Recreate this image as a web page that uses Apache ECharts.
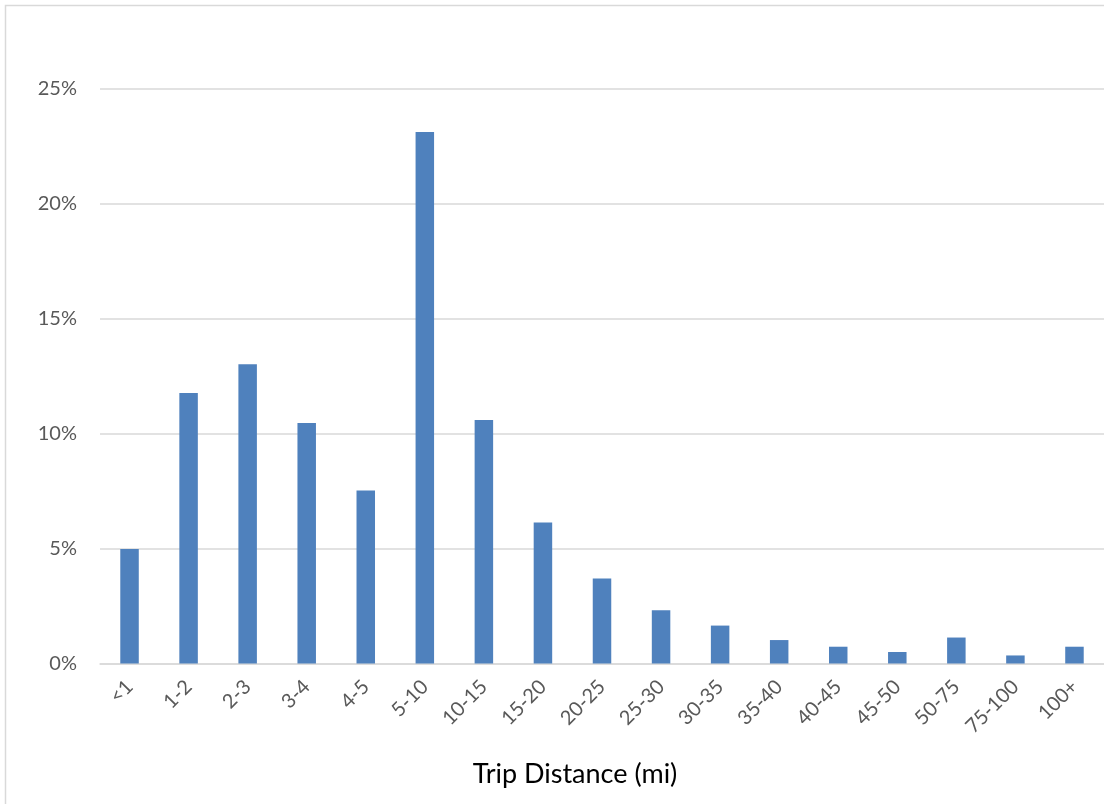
<!DOCTYPE html>
<html>
<head>
<meta charset="utf-8">
<script src="https://cdn.jsdelivr.net/npm/echarts@6/dist/echarts.min.js"></script>
<style>
html,body{margin:0;padding:0;background:#fff;}
#chart{width:1104px;height:804px;}
</style>
</head>
<body>
<div id="chart"></div>
<script>
const categories = ['<1','1-2','2-3','3-4','4-5','5-10','10-15','15-20','20-25','25-30','30-35','35-40','40-45','45-50','50-75','75-100','100+'];
const shares = [4.98, 11.77, 13.02, 10.47, 7.53, 23.13, 10.60, 6.14, 3.70, 2.32, 1.65, 1.02, 0.73, 0.50, 1.13, 0.35, 0.73];
const yTicks = [0, 5, 10, 15, 20, 25];
const xTitle = 'Trip Distance (mi)';

const FONT = 'Lato';
const chart = echarts.init(document.getElementById('chart'), null, {renderer:'canvas'});
chart.setOption({
  animation: false,
  backgroundColor: '#fff',
  grid: {left: 100, right: -3, top: 89, bottom: 140.5, containLabel: false},
  graphic: [
    {type:'rect', shape:{x:5.5, y:5.5, width:1300, height:1300}, style:{fill:'none', stroke:'#d9d9d9', lineWidth:1.5}, silent:true},
    {type:'text', x:575, y:774, style:{text:xTitle, font:'27px Lato', fill:'#000', align:'center', verticalAlign:'middle'}}
  ],
  xAxis: {
    type:'category',
    data: categories,
    axisLine:{show:true, lineStyle:{color:'#d9d9d9', width:1.5}},
    axisTick:{show:false},
    axisLabel:{rotate:45, interval:0, margin:20, color:'#595959', fontFamily:FONT, fontSize:20}
  },
  yAxis: {
    type:'value',
    min: yTicks[0], max: yTicks[yTicks.length-1], interval: 5,
    axisLine:{show:false},
    axisTick:{show:false},
    splitLine:{lineStyle:{color:'#d9d9d9', width:1.5}},
    axisLabel:{formatter:'{value}%', margin:23, color:'#595959', fontFamily:FONT, fontSize:20}
  },
  series: [{
    type:'bar',
    data: shares,
    barWidth: 18.5,
    itemStyle:{color:'#4F81BD'}
  }]
});
</script>
</body>
</html>
